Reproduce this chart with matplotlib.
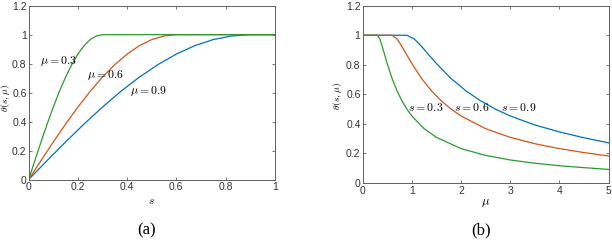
import matplotlib
matplotlib.use("Agg")
import matplotlib.pyplot as plt

# ---- data ----
# panel (a): theta(s, mu) versus s
s_mu03 = [0, 0.025, 0.05, 0.075, 0.1, 0.125, 0.15, 0.175, 0.2, 0.225, 0.25, 0.275, 0.3, 1.0]
s_mu06 = [0, 0.05, 0.1, 0.15, 0.2, 0.25, 0.3, 0.35, 0.4, 0.45, 0.5, 0.55, 0.6, 1.0]
s_mu09 = [0, 0.075, 0.15, 0.225, 0.3, 0.375, 0.45, 0.525, 0.6, 0.675, 0.75, 0.825, 0.9, 1.0]
th_mu03 = [0, 0.131, 0.259, 0.383, 0.5, 0.609, 0.707, 0.793, 0.866, 0.924, 0.966, 0.991, 1, 1]
th_mu06 = [0, 0.131, 0.259, 0.383, 0.5, 0.609, 0.707, 0.793, 0.866, 0.924, 0.966, 0.991, 1, 1]
th_mu09 = [0, 0.131, 0.259, 0.383, 0.5, 0.609, 0.707, 0.793, 0.866, 0.924, 0.966, 0.991, 1, 1]

# panel (b): theta(s, mu) versus mu
mu_s03 = [0, 0.3, 0.35, 0.4, 0.45, 0.5, 0.6, 0.7, 0.8, 0.9, 1.0, 1.25, 1.5, 2.0, 2.5, 3.0, 3.5, 4.0, 4.5, 5.0]
th_s03 = [1, 1, 0.975, 0.924, 0.866, 0.809, 0.707, 0.624, 0.556, 0.500, 0.454, 0.368, 0.309, 0.233, 0.187,
          0.156, 0.134, 0.117, 0.104, 0.092]
mu_s06 = [0, 0.6, 0.7, 0.8, 0.9, 1.0, 1.2, 1.4, 1.6, 1.8, 2.0, 2.5, 3.0, 3.5, 4.0, 4.5, 5.0]
th_s06 = [1, 1, 0.975, 0.924, 0.866, 0.809, 0.707, 0.624, 0.556, 0.500, 0.454, 0.368, 0.309, 0.266,
          0.233, 0.206, 0.183]
mu_s09 = [0, 0.9, 1.05, 1.2, 1.35, 1.5, 1.8, 2.1, 2.4, 2.7, 3.0, 3.5, 4.0, 4.5, 5.0]
th_s09 = [1, 1, 0.975, 0.924, 0.866, 0.809, 0.707, 0.624, 0.556, 0.500, 0.454, 0.393, 0.346, 0.306, 0.272]

a_xticks = [0, 0.2, 0.4, 0.6, 0.8, 1]
a_xticklabels = ["0", "0.2", "0.4", "0.6", "0.8", "1"]
b_xticks = [0, 1, 2, 3, 4, 5]
b_xticklabels = ["0", "1", "2", "3", "4", "5"]
yticks = [0, 0.2, 0.4, 0.6, 0.8, 1.0, 1.2]
yticklabels = ["0", "0.2", "0.4", "0.6", "0.8", "1", "1.2"]

labels_a = [r"$\mu=0.3$", r"$\mu=0.6$", r"$\mu=0.9$"]
labels_b = [r"$s=0.3$", r"$s=0.6$", r"$s=0.9$"]

# ---- style ----
plt.rcParams["mathtext.fontset"] = "cm"
plt.rcParams["font.family"] = ["Liberation Sans", "DejaVu Sans"]
C_BLUE = "#0072BD"
C_ORANGE = "#D95319"
C_GREEN = "#2E9A2E"
AX_COL = "#606060"
LW = 0.9

fig = plt.figure(figsize=(6.12, 2.40), dpi=100)
axA = fig.add_axes([28.7 / 612, 1 - 179.5 / 240, (274.7 - 28.7) / 612, (179.5 - 5.7) / 240])
axB = fig.add_axes([362.6 / 612, 1 - 183.0 / 240, (608.5 - 362.6) / 612, (183.0 - 5.7) / 240])


def style(ax, xt, xtl):
    ax.set_ylim(0, 1.2)
    ax.set_xticks(xt)
    ax.set_xticklabels(xtl)
    ax.set_yticks(yticks)
    ax.set_yticklabels(yticklabels)
    ax.tick_params(direction="in", length=2.5, width=0.6, colors=AX_COL, labelsize=7.5,
                   labelcolor="#333333", top=True, right=True, pad=2)
    ax.tick_params(axis="y", pad=1.5)
    for sp in ax.spines.values():
        sp.set_color(AX_COL)
        sp.set_linewidth(0.7)


axA.plot(s_mu09, th_mu09, color=C_BLUE, lw=LW)
axA.plot(s_mu06, th_mu06, color=C_ORANGE, lw=LW)
axA.plot(s_mu03, th_mu03, color=C_GREEN, lw=LW)
axA.set_xlim(0, 1)
style(axA, a_xticks, a_xticklabels)
axA.text(0.046, 0.818, labels_a[0], fontsize=8.5, va="center", ha="left")
axA.text(0.238, 0.72, labels_a[1], fontsize=8.5, va="center", ha="left")
axA.text(0.412, 0.613, labels_a[2], fontsize=8.5, va="center", ha="left")
axA.set_xlabel(r"$s$", fontsize=8, labelpad=3)
axA.set_ylabel(r"$\theta(s,\mu)$", fontsize=7)
axA.yaxis.set_label_coords(-0.067, 0.47)

axB.plot(mu_s09, th_s09, color=C_BLUE, lw=LW)
axB.plot(mu_s06, th_s06, color=C_ORANGE, lw=LW)
axB.plot(mu_s03, th_s03, color=C_GREEN, lw=LW)
axB.set_xlim(0, 5)
style(axB, b_xticks, b_xticklabels)
axB.text(0.92, 0.51, labels_b[0], fontsize=8.5, va="center", ha="left")
axB.text(1.86, 0.51, labels_b[1], fontsize=8.5, va="center", ha="left")
axB.text(2.81, 0.51, labels_b[2], fontsize=8.5, va="center", ha="left")
axB.set_xlabel(r"$\mu$", fontsize=9, labelpad=1)
axB.set_ylabel(r"$\theta(s,\mu)$", fontsize=7)
axB.yaxis.set_label_coords(-0.075, 0.49)

fig.text(146.7 / 612, 1 - 230 / 240, "(a)", fontsize=12, family="Liberation Serif", ha="center", va="center")
fig.text(481 / 612, 1 - 230 / 240, "(b)", fontsize=12, family="Liberation Serif", ha="center", va="center")

fig.savefig("out.png", dpi=100)
